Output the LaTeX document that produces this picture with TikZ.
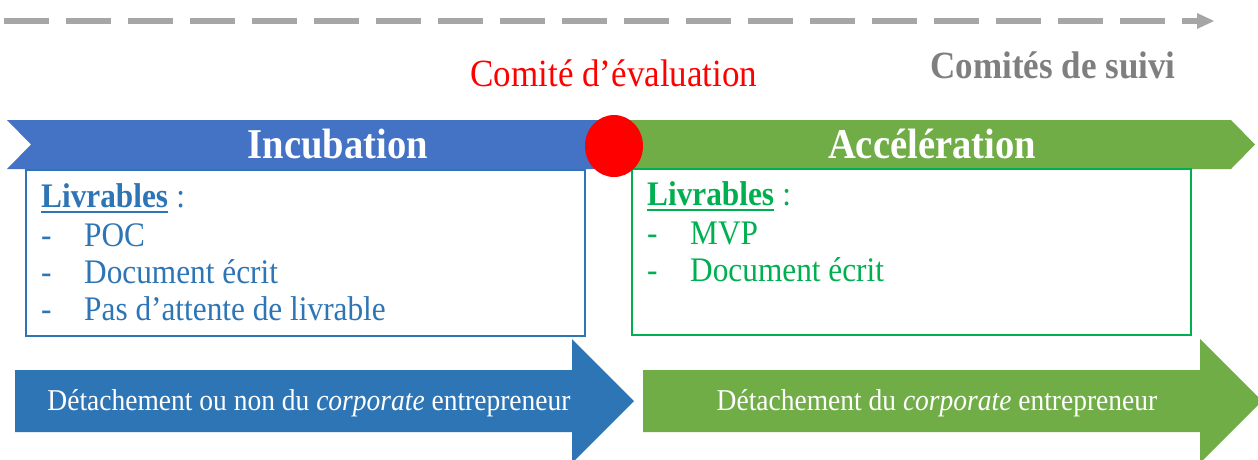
\documentclass[tikz,border=0pt]{standalone}
\usepackage{fontspec}
\setmainfont{Liberation Serif}
\definecolor{bannerblue}{HTML}{4472C4}
\definecolor{bannergreen}{HTML}{70AD47}
\definecolor{boxblue}{HTML}{2E75B6}
\definecolor{boxgreen}{HTML}{00B050}
\definecolor{arrowgreen}{HTML}{70AD47}
\definecolor{dashgray}{HTML}{A6A6A6}
\definecolor{suivigray}{HTML}{7F7F7F}
\newcommand{\tallx}[1]{\scalebox{1}[1.1]{#1}}
\tikzset{
  lbl/.style={inner sep=0pt, anchor=base},
  lblw/.style={inner sep=0pt, anchor=base west},
  banner/.style={font=\fontsize{38.6}{44}\selectfont\bfseries, text=white, lbl},
  item/.style={font=\fontsize{31.3}{36}\selectfont, lblw},
  bottomtxt/.style={font=\fontsize{27.5}{33}\selectfont, text=white, lbl},
  livbox/.style={draw, line width=1.6pt, minimum width=559pt, minimum height=166pt, inner sep=0pt},
}
\begin{document}
\begin{tikzpicture}[x=1pt,y=-1pt]
\clip (0,0) rectangle (1258,459);
\fill[white] (0,0) rectangle (1258,459);

% dashed timeline
\coordinate (tl0) at (4,21);
\coordinate (tl1) at (1197,21);
\coordinate (tl2) at (1214,21);
\draw[dashgray, line width=6pt, dash pattern=on 45pt off 17pt] (tl0) -- (tl1);
\fill[dashgray] (1197,13) -- (tl2) -- (1197,29) -- cycle;

% titles
\node[lbl, font=\fontsize{35}{42}\selectfont, text=red] (ce) at (614,86) {\tallx{Comité d’évaluation}};
\node[lbl, font=\fontsize{35}{42}\selectfont\bfseries, text=suivigray] (cs) at (1053,78) {\tallx{Comités de suivi}};

% banners
\fill[bannerblue] (7,120) -- (616,120) -- (616,169) -- (7,169) -- (31,144.5) -- cycle;
\fill[bannergreen] (614,120) -- (1231,120) -- (1255,144.5) -- (1231,169) -- (614,169) -- cycle;
\node[banner] (inc) at (338,158) {\tallx{Incubation}};
\node[banner] (acc) at (932,158) {\tallx{Accélération}};

% boxes
\node[livbox, draw=boxblue] (boxI) at (305.5,253) {};
\node[livbox, draw=boxgreen] (boxA) at (911.5,252) {};

% red circle
\fill[red] (614,146) ellipse [x radius=29, y radius=31];
\node[inner sep=0pt] (circ) at (614,146) {};

% blue box content
\begin{scope}[text=boxblue]
\node[item, font=\fontsize{31.3}{36}\selectfont\bfseries] (liv1) at (41,207) {\tallx{Livrables}};
\node[item] (col1) at (liv1.base east) {\tallx{\ :}};
\draw[boxblue, line width=2.2pt] ([yshift=-5pt]liv1.base west) -- ([yshift=-5pt]liv1.base east);
\node[item] (d1) at (41,246) {\tallx{-}};
\node[item] (i1) at (84,246) {\tallx{POC}};
\node[item] (d2) at (41,283) {\tallx{-}};
\node[item] (i2) at (84,283) {\tallx{Document écrit}};
\node[item] (d3) at (41,320) {\tallx{-}};
\node[item] (i3) at (84,320) {\tallx{Pas d’attente de livrable}};
\end{scope}

% green box content
\begin{scope}[text=boxgreen]
\node[item, font=\fontsize{31.3}{36}\selectfont\bfseries] (liv2) at (647,205) {\tallx{Livrables}};
\node[item] (col2) at (liv2.base east) {\tallx{\ :}};
\draw[boxgreen, line width=2.2pt] ([yshift=-5pt]liv2.base west) -- ([yshift=-5pt]liv2.base east);
\node[item] (d4) at (647,244) {\tallx{-}};
\node[item] (i4) at (690,244) {\tallx{MVP}};
\node[item] (d5) at (647,281) {\tallx{-}};
\node[item] (i5) at (690,281) {\tallx{Document écrit}};
\end{scope}

% bottom arrows
\fill[boxblue] (15,370) -- (572,370) -- (572,339) -- (634,401) -- (572,463) -- (572,432) -- (15,432) -- cycle;
\fill[arrowgreen] (643,370) -- (1200,370) -- (1200,339) -- (1262,401) -- (1200,463) -- (1200,432) -- (643,432) -- cycle;
\node[bottomtxt] (t1) at (309,410) {\tallx{Détachement ou non du \textit{corporate} entrepreneur}};
\node[bottomtxt] (t2) at (937,410) {\tallx{Détachement du \textit{corporate} entrepreneur}};
\end{tikzpicture}
\end{document}
